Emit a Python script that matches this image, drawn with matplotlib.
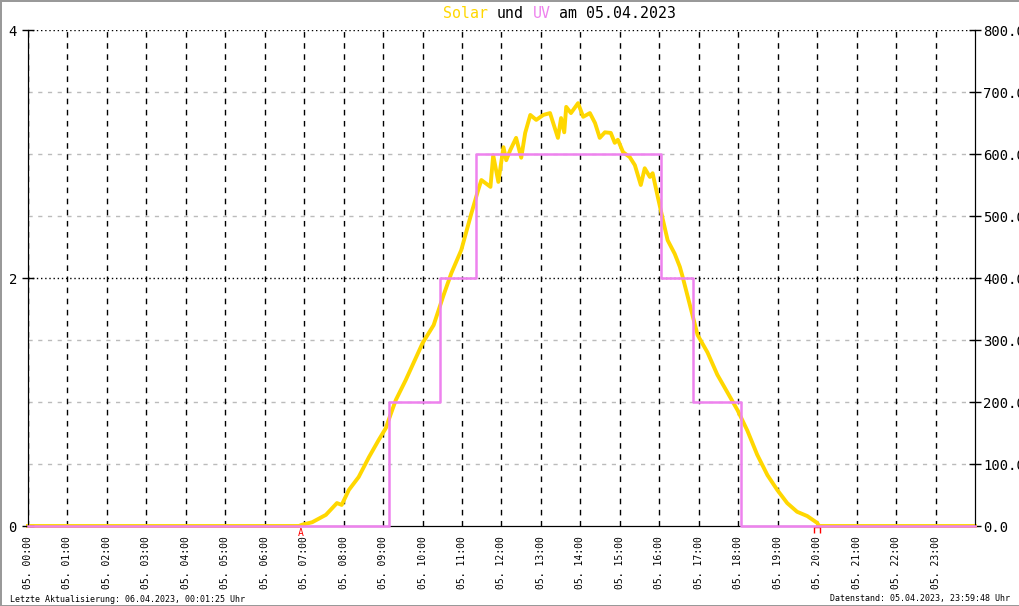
import numpy as np
import matplotlib
matplotlib.use('Agg')
import matplotlib.pyplot as plt
import matplotlib.transforms as mtransforms
from matplotlib.path import Path
from matplotlib.ticker import FormatStrFormatter

# --- data ---
day_prefix = '05.'
hour_ticks = list(range(24))
hour_labels = ['%s %02d:00' % (day_prefix, h) for h in hour_ticks]
solar_ticks = list(range(0, 801, 100))
uv_ticks = [0, 2, 4]

solar_hours = [0.0, 6.87, 6.94, 7.20, 7.55, 7.83, 7.95, 8.13, 8.38, 8.64, 8.89,
               9.07, 9.14, 9.32, 9.57, 10.00, 10.28, 10.53, 10.73, 10.98, 11.24,
               11.41, 11.49, 11.72, 11.79, 11.92, 12.05, 12.12, 12.22, 12.37,
               12.50, 12.60, 12.73, 12.88, 13.06, 13.23, 13.31, 13.43, 13.51,
               13.59, 13.64, 13.76, 13.94, 14.07, 14.24, 14.37, 14.49, 14.62,
               14.77, 14.87, 14.95, 15.08, 15.25, 15.38, 15.53, 15.63, 15.76,
               15.83, 15.96, 16.09, 16.21, 16.39, 16.52, 16.59, 16.97, 17.22,
               17.47, 17.73, 17.98, 18.23, 18.48, 18.74, 18.99, 19.24, 19.49,
               19.75, 20.00, 20.05, 24.0]
solar_w = [0, 0, 2, 6, 18, 37, 34, 58, 79, 111, 139,
           158, 171, 203, 235, 295, 324, 372, 408, 445, 505,
           542, 558, 547, 598, 555, 611, 590, 606, 626,
           594, 634, 663, 655, 663, 666, 650, 626, 658,
           635, 676, 666, 682, 660, 666, 650, 626, 635,
           634, 618, 623, 603, 595, 582, 550, 577, 563,
           569, 531, 494, 461, 439, 418, 402, 308, 280,
           244, 215, 187, 154, 115, 82, 58, 37, 23,
           16, 5, 0, 0]

uv_hours = [0, 9.16, 10.43, 11.36, 16.05, 16.86, 18.08, 24]
uv_index = [0, 1, 2, 3, 2, 1, 0, 0]

sunrise = 6.93
sunset = 20.0

title_parts = [('Solar', '#FFD700'), ('und', 'black'), ('UV', '#EE82EE'),
               ('am 05.04.2023', 'black')]
updated_text = 'Letzte Aktualisierung: 06.04.2023, 00:01:25 Uhr'
datastate_text = 'Datenstand: 05.04.2023, 23:59:48 Uhr'

MONO = 'DejaVu Sans Mono'
plt.rcParams['font.family'] = MONO

W, H = 1020, 606
fig = plt.figure(figsize=(W / 100, H / 100), dpi=100)
fig.patch.set_edgecolor('#999999')
fig.patch.set_linewidth(2)

ax = fig.add_axes([28 / W, 1 - 526 / H, 947 / W, 496 / H])
ax_uv = ax.twinx()

# solar (right scale) on the main axes, so its grid sits under the line
ax.plot(solar_hours, solar_w, color='#FFD700', lw=2.8, solid_joinstyle='round',
        clip_on=False, zorder=3)
ax.set_xlim(0, 24)
ax.set_ylim(0, 800)
ax.yaxis.tick_right()
ax.set_yticks(solar_ticks)
ax.yaxis.set_major_formatter(FormatStrFormatter('%.1f'))
ax.tick_params(axis='y', direction='inout', length=8, width=1, pad=2,
               labelsize=10, left=False, labelleft=False,
               right=True, labelright=True)
ax.set_xticks(hour_ticks)
ax.set_xticklabels(hour_labels, rotation=90, fontsize=7, va='top')
ax.tick_params(axis='x', length=0, pad=7)
ax.spines['top'].set_visible(False)

ax.grid(axis='x', color='black', linestyle=(0, (4, 4)), lw=1)
for v in solar_ticks[1:]:
    if v % 400 == 0:
        ax.axhline(v, color='black', linestyle=(0, (1, 2)), lw=1, zorder=1)
    else:
        ax.axhline(v, color='#bbbbbb', linestyle=(0, (3, 4)), lw=1, zorder=1)

# UV index (left scale), drawn over the baseline like the original
ax_uv.step(uv_hours, uv_index, where='post', color='#EE82EE', lw=1.8,
           clip_on=False, zorder=3)
ax_uv.set_ylim(0, 4)
ax_uv.set_yticks(uv_ticks)
ax_uv.tick_params(axis='y', direction='inout', length=8, width=1, pad=4,
                  labelsize=10, left=True, labelleft=True,
                  right=False, labelright=False)
ax_uv.spines['top'].set_visible(False)

# sunrise / sunset markers
ax_uv.annotate('A', xy=(sunrise, 0), xytext=(-0.5, -1.5),
               textcoords='offset points', ha='center', va='top', color='red',
               fontsize=7, annotation_clip=False)
bracket = Path([(-1, -1), (-1, 1), (1, 1), (1, -1)],
               [Path.MOVETO, Path.LINETO, Path.LINETO, Path.LINETO])
off = mtransforms.offset_copy(ax_uv.transData, fig=fig, y=-4, units='dots')
ax_uv.plot([sunset], [0], marker=bracket, markersize=5, mfc='none',
           mec='red', mew=1, transform=off, clip_on=False)

# title in coloured pieces (monospace -> fixed char width)
fs = 10.7
cw = 0.602 * fs * 100 / 72
x0 = 443
pos = 0
for txt, col in title_parts:
    fig.text((x0 + pos * cw) / W, 1 - 13 / H, txt, color=col, fontsize=fs,
             ha='left', va='center')
    pos += len(txt) + 1

fig.text(10 / W, 1 - 599 / H, updated_text, fontsize=6, ha='left', va='center')
fig.text(1010 / W, 1 - 599 / H, datastate_text, fontsize=6, ha='right',
         va='center')

fig.savefig('out.png', dpi=100)
